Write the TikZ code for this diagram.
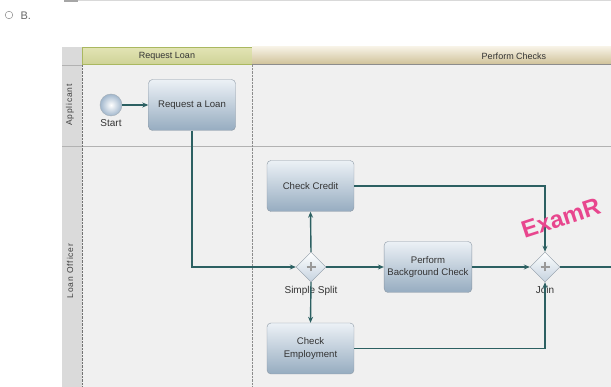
\documentclass[tikz,border=0pt]{standalone}
\usepackage{fontspec}
\setmainfont{Liberation Sans}
\usepackage{tikz}
\usetikzlibrary{shapes.geometric}
\usetikzlibrary{arrows.meta, positioning}

\definecolor{flowteal}{RGB}{44,96,98}
\definecolor{poolbg}{RGB}{240,240,240}
\definecolor{guttergray}{RGB}{218,218,218}
\definecolor{tasktop}{RGB}{236,241,246}
\definecolor{taskmid}{RGB}{196,210,223}
\definecolor{taskbot}{RGB}{150,172,192}
\definecolor{taskedge}{RGB}{140,152,164}
\definecolor{startblue}{RGB}{160,182,204}
\definecolor{hdrtop}{RGB}{246,241,228}
\definecolor{hdrbot}{RGB}{206,192,150}
\definecolor{hdrsel}{RGB}{226,228,180}
\definecolor{hdrselbot}{RGB}{206,210,150}
\definecolor{hdrseledge}{RGB}{170,184,96}
\definecolor{examrpink}{RGB}{232,70,142}

\begin{document}
\begin{tikzpicture}[x=1pt,y=-1pt,
    task/.style={draw=taskedge, rounded corners=4pt, minimum width=87pt,
      minimum height=51pt, top color=tasktop, middle color=taskmid,
      bottom color=taskbot, align=center, text=black!80,
      font=\fontsize{9.6}{12.5}\selectfont},
    gate/.style={diamond, draw=taskedge, top color=white, bottom color=taskmid,
      minimum width=30pt, minimum height=30pt, inner sep=0pt,
      path picture={\draw[black!40, line width=1.6pt]
        ([xshift=-4.5pt]path picture bounding box.center) -- ++(9pt,0pt)
        ([yshift=-4.5pt]path picture bounding box.center) -- ++(0pt,9pt);}},
    flow/.style={draw=flowteal, line width=1.4pt,
      -{Stealth[length=6pt,width=5pt]}},
    lbl/.style={font=\fontsize{10}{11}\selectfont, text=black!80},
    hdr/.style={font=\fontsize{9}{10}\selectfont, text=black!80},
    lane/.style={font=\fontsize{8.5}{10}\selectfont\addfontfeature{LetterSpace=10},
      text=black!75, rotate=90}
  ]
    \useasboundingbox (0,0) rectangle (611,387);

    % Draw top rule and option mark
    \draw[black!15, line width=1pt] (64,1) -- (611,1);
    \fill[black!35] (64,0) rectangle (78,2);
    \draw[black!45, line width=0.5pt] (9,15) circle (3.8pt);
    \node[font=\fontsize{11}{12}\selectfont, text=black!60, anchor=west]
      (opt) at (17,16) {B.};

    % Draw pool background and lanes
    \fill[poolbg] (62,47) rectangle (611,387);
    \fill[guttergray] (62,47) rectangle (82,387);
    \shade[top color=hdrsel, bottom color=hdrselbot, draw=hdrseledge, line width=1pt]
      (82.5,47.5) rectangle (252,65);
    \shade[top color=hdrtop, bottom color=hdrbot] (252,47) rectangle (611,65);
    \draw[black!45] (252,64.5) -- (611,64.5);
    \draw[black!30] (62,146) -- (611,146);
    \draw[black!30] (62,65) -- (82,65);
    \draw[black!55, densely dotted] (82,65) -- (82,387);
    \draw[black!45, densely dotted] (252,65) -- (252,387);

    % Add header and lane labels
    \node[hdr] (hdrreq) at (167,56) {Request Loan};
    \node[hdr] (hdrchk) at (514,56) {Perform Checks};
    \node[lane] (applicant) at (70,105) {Applicant};
    \node[lane] (officer) at (70,271) {Loan Officer};

    % Draw start event and tasks
    \node[circle, minimum size=22pt, inner sep=0pt, inner color=white,
      outer color=startblue, draw=taskedge!80] (start) at (111,105) {};
    \node[lbl, below=0pt of start] (startlbl) {Start};
    \node[task] (request) at (192,105) {Request a Loan};
    \node[task] (credit) at (310.5,186) {Check Credit};
    \node[task] (employ) at (310.5,348.5) {Check\\Employment};
    \node[task] (background) at (428,267) {Perform\\Background Check};

    % Draw gateways
    \node[gate] (split) at (311,267) {};
    \node[lbl, below=1pt of split] (splitlbl) {Simple Split};
    \node[gate] (join) at (545,267) {};
    \node[lbl, below=1pt of join] (joinlbl) {Join};
    \coordinate (exit) at (611,267);

    % Draw sequence flows
    \draw[flow] (start) -- (request);
    \draw[flow] (request.south) |- (split.west);
    \draw[flow] (split.north) -- (credit.south);
    \draw[flow] (split.south) -- (employ.north);
    \draw[flow] (split.east) -- (background.west);
    \draw[flow] (background.east) -- (join.west);
    \draw[flow] (credit.east) -| (join.north);
    \draw[flow] (employ.east) -| (join.south);
    \draw[flow, -] (join.east) -- (exit);

    % Add watermark
    \node[anchor=west, rotate=18, text=examrpink, inner sep=0pt,
      font=\fontsize{24}{26}\selectfont\bfseries] (mark) at (522,231) {ExamR};
\end{tikzpicture}
\end{document}
